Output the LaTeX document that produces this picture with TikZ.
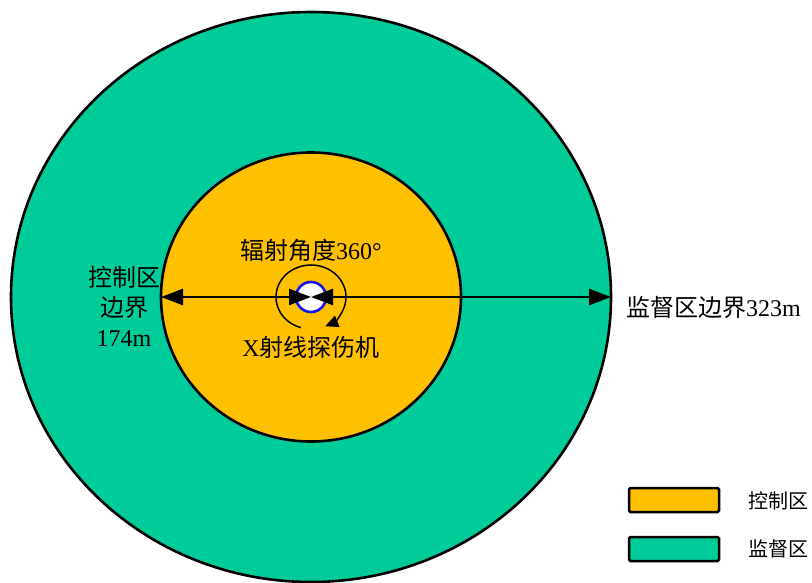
\documentclass[tikz,border=0pt]{standalone}
\usepackage{fontspec}
\setmainfont{Liberation Serif}
\newfontfamily\cjk{Noto Sans CJK SC}
\usetikzlibrary{shapes.geometric,arrows.meta}
\definecolor{ctrl}{RGB}{255,192,0}
\definecolor{supv}{RGB}{0,204,153}
\definecolor{srcblue}{RGB}{20,20,235}
\tikzset{
  zone/.style={ellipse, draw=black, line width=2.6pt, inner sep=0pt, outer sep=0pt},
  dim/.style={line width=2.6pt, {Triangle[length=22pt,width=16pt]}-{Triangle[length=22pt,width=16pt]}},
  lbl/.style={inner sep=0pt, font=\fontsize{24}{30}\selectfont, text=black},
  legbox/.style={draw=black, line width=2.5pt, rounded corners=1.5pt, minimum width=90pt, minimum height=24pt, inner sep=0pt},
  legtxt/.style={inner sep=0pt, anchor=west, font=\fontsize{20}{24}\selectfont\cjk}
}
\begin{document}
\begin{tikzpicture}[x=1pt,y=-1pt]
\useasboundingbox (0,0) rectangle (812,583);
\fill[white] (0,0) rectangle (812,583);
\node[zone, fill=supv, minimum width=600pt, minimum height=570pt] (outer) at (311,297) {};
\node[zone, fill=ctrl, minimum width=300pt, minimum height=289pt] (inner) at (311,297) {};
\node[circle, draw=srcblue, line width=2.6pt, fill=white, minimum size=30pt, inner sep=0pt, outer sep=0pt] (src) at (311,297) {};
\draw[dim] (inner.west) -- (src.center);
\draw[dim] (src.center) -- (outer.east);
\draw[line width=1.5pt, -{Triangle[length=13pt,width=12pt]}]
  ([shift={(253:35pt and 32pt)}]src.center) arc[start angle=253, end angle=-66, x radius=35pt, y radius=32pt];
\node[lbl] (angle) at (311,250) {{\cjk 辐射角度}360°};
\node[lbl] (xray) at (311,347) {X{\cjk 射线探伤机}};
\node[lbl, align=center] (ctrlb) at (124,306) {{\cjk 控制区}\\{\cjk 边界}\\174m};
\node[lbl, anchor=west] (supb) at (626,307) {{\cjk 监督区边界}323m};
\node[legbox, fill=ctrl] (legc) at (674,500) {};
\node[legbox, fill=supv] (legs) at (674,549) {};
\node[legtxt] (legct) at (748,501) {控制区};
\node[legtxt] (legst) at (748,549) {监督区};
\end{tikzpicture}
\end{document}
